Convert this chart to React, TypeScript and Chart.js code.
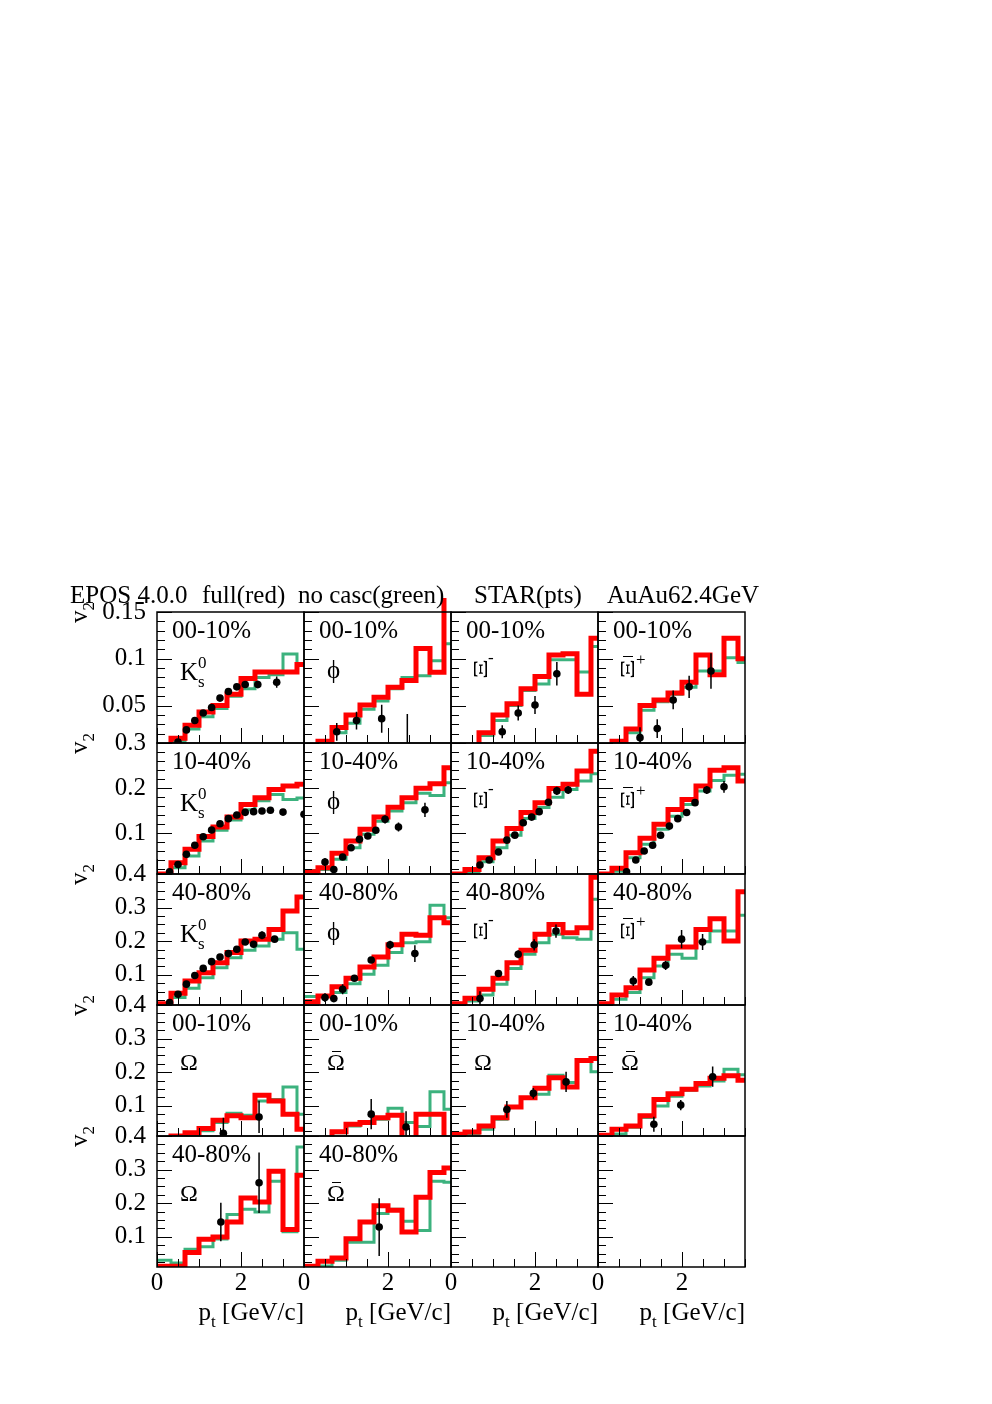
import React, { useEffect, useRef } from 'react';
import { Chart, registerables } from 'chart.js';

Chart.register(...registerables);

const FONT = '"Liberation Serif", "Times New Roman", Times, serif';
const RED = '#ff0000';
const GREEN = '#3cb27e';

// ---------- data ----------
const BIN_EDGES = [0, 0.333, 0.667, 1.0, 1.333, 1.667, 2.0, 2.333, 2.667, 3.0, 3.333, 3.667];

// K0s 00-10%
const K0S_0010_FULL = [0, 0.015, 0.029, 0.043, 0.05, 0.062, 0.079, 0.086, 0.086, 0.086, 0.094];
const K0S_0010_NOCASC = [0, 0.012, 0.025, 0.038, 0.047, 0.06, 0.068, 0.08, 0.083, 0.105, 0.094];
const K0S_0010_PT = [0.5, 0.7, 0.9, 1.1, 1.3, 1.5, 1.7, 1.9, 2.1, 2.4, 2.85];
const K0S_0010_V2 = [0.011, 0.024, 0.034, 0.042, 0.048, 0.058, 0.065, 0.07, 0.0725, 0.0725, 0.075];
const K0S_0010_ERR = [0.001, 0.001, 0.001, 0.001, 0.001, 0.001, 0.0015, 0.002, 0.003, 0.004, 0.006];

// phi 00-10%
const PHI_0010_FULL = [0, 0.012, 0.0265, 0.04, 0.0506, 0.0588, 0.0696, 0.0768, 0.111, 0.0857, 0.2];
const PHI_0010_NOCASC = [0, 0.01, 0.021, 0.031, 0.046, 0.055, 0.068, 0.08, 0.082, 0.098, 0.116];
const PHI_0010_PT = [0.78, 1.25, 1.85, 2.46];
const PHI_0010_V2 = [0.022, 0.034, 0.036, -0.01];
const PHI_0010_ERR = [0.0095, 0.0095, 0.015, 0.051];

// Xi- 00-10%
const XI_0010_FULL = [0, 0, 0.021, 0.04, 0.052, 0.068, 0.081, 0.104, 0.1055, 0.062, 0.122];
const XI_0010_NOCASC = [0, 0, 0.018, 0.034, 0.05, 0.066, 0.073, 0.099, 0.099, 0.086, 0.113];
const XI_0010_PT = [1.22, 1.6, 2.0, 2.52];
const XI_0010_V2 = [0.022, 0.042, 0.0506, 0.084];
const XI_0010_ERR = [0.007, 0.008, 0.0095, 0.0125];

// anti-Xi+ 00-10%
const AXI_0010_FULL = [0, 0.012, 0.025, 0.05, 0.056, 0.0635, 0.075, 0.104, 0.083, 0.122, 0.1];
const AXI_0010_NOCASC = [0, 0.011, 0.021, 0.045, 0.054, 0.062, 0.0696, 0.087, 0.087, 0.101, 0.096];
const AXI_0010_PT = [1.0, 1.41, 1.79, 2.17, 2.69];
const AXI_0010_V2 = [0.0157, 0.0254, 0.056, 0.07, 0.087];
const AXI_0010_ERR = [0.011, 0.01, 0.01, 0.012, 0.019];

// K0s 10-40%
const K0S_1040_FULL = [0.01, 0.035, 0.065, 0.093, 0.114, 0.136, 0.164, 0.179, 0.197, 0.205, 0.2085];
const K0S_1040_NOCASC = [0.01, 0.024, 0.05, 0.083, 0.107, 0.1295, 0.152, 0.172, 0.186, 0.175, 0.178];
const K0S_1040_PT = [0.3, 0.5, 0.7, 0.9, 1.1, 1.3, 1.5, 1.7, 1.9, 2.1, 2.3, 2.5, 2.7, 3.0, 3.5];
const K0S_1040_V2 = [0.015, 0.031, 0.0535, 0.0735, 0.0926, 0.1074, 0.1214, 0.1325, 0.1406, 0.1465, 0.148, 0.1495, 0.151, 0.147, 0.142];
const K0S_1040_ERR = [0.002, 0.002, 0.002, 0.002, 0.002, 0.002, 0.002, 0.002, 0.002, 0.002, 0.002, 0.002, 0.002, 0.003, 0.003];

// phi 10-40%
const PHI_1040_FULL = [0.015, 0.024, 0.056, 0.083, 0.109, 0.136, 0.158, 0.179, 0.1997, 0.21, 0.245];
const PHI_1040_NOCASC = [0.018, 0.02, 0.0425, 0.068, 0.098, 0.127, 0.1495, 0.168, 0.189, 0.184, 0.212];
const PHI_1040_PT = [0.5, 0.71, 0.92, 1.12, 1.32, 1.52, 1.71, 1.93, 2.25, 2.88];
const PHI_1040_V2 = [0.0365, 0.02, 0.0476, 0.068, 0.0867, 0.094, 0.107, 0.131, 0.114, 0.152];
const PHI_1040_ERR = [0.009, 0.004, 0.004, 0.004, 0.005, 0.005, 0.006, 0.009, 0.01, 0.016];

// Xi- 10-40%
const XI_1040_FULL = [0.01, 0.02, 0.046, 0.083, 0.111, 0.146, 0.168, 0.199, 0.2085, 0.238, 0.282];
const XI_1040_NOCASC = [0.01, 0.0145, 0.037, 0.068, 0.096, 0.133, 0.157, 0.18, 0.197, 0.216, 0.232];
const XI_1040_PT = [0.69, 0.91, 1.13, 1.33, 1.52, 1.72, 1.92, 2.1, 2.32, 2.52, 2.79];
const XI_1040_V2 = [0.03, 0.041, 0.0587, 0.085, 0.096, 0.1236, 0.136, 0.148, 0.169, 0.194, 0.196];
const XI_1040_ERR = [0.004, 0.004, 0.004, 0.004, 0.004, 0.004, 0.004, 0.004, 0.005, 0.009, 0.009];

// anti-Xi+ 10-40%
const AXI_1040_FULL = [0.01, 0.0226, 0.057, 0.089, 0.12, 0.153, 0.175, 0.205, 0.2395, 0.245, 0.216];
const AXI_1040_NOCASC = [0.01, 0.016, 0.046, 0.076, 0.109, 0.138, 0.164, 0.194, 0.217, 0.2285, 0.231];
const AXI_1040_PT = [0.68, 0.9, 1.1, 1.3, 1.49, 1.7, 1.9, 2.11, 2.31, 2.59, 3.0];
const AXI_1040_V2 = [0.015, 0.041, 0.061, 0.0735, 0.0957, 0.116, 0.1325, 0.146, 0.168, 0.196, 0.203];
const AXI_1040_ERR = [0.004, 0.004, 0.004, 0.004, 0.004, 0.004, 0.004, 0.005, 0.006, 0.009, 0.013];

// K0s 40-80%
const K0S_4080_FULL = [0.014, 0.045, 0.0815, 0.106, 0.136, 0.166, 0.2005, 0.206, 0.235, 0.29, 0.3315];
const K0S_4080_NOCASC = [0.012, 0.032, 0.06, 0.091, 0.121, 0.151, 0.173, 0.186, 0.206, 0.225, 0.176];
const K0S_4080_PT = [0.3, 0.5, 0.7, 0.9, 1.1, 1.3, 1.5, 1.7, 1.9, 2.1, 2.3, 2.5, 2.8];
const K0S_4080_V2 = [0.017, 0.042, 0.072, 0.098, 0.119, 0.139, 0.153, 0.163, 0.176, 0.1976, 0.191, 0.2175, 0.206];
const K0S_4080_ERR = [0.003, 0.003, 0.003, 0.003, 0.003, 0.003, 0.003, 0.004, 0.004, 0.005, 0.006, 0.012, 0.008];

// phi 40-80%
const PHI_4080_FULL = [0.02, 0.037, 0.0645, 0.0895, 0.123, 0.153, 0.189, 0.2205, 0.2175, 0.27, 0.255];
const PHI_4080_NOCASC = [0.035, 0.035, 0.047, 0.0734, 0.1014, 0.128, 0.166, 0.1955, 0.198, 0.307, 0.27];
const PHI_4080_PT = [0.5, 0.71, 0.92, 1.2, 1.6, 2.05, 2.64];
const PHI_4080_V2 = [0.032, 0.029, 0.057, 0.0895, 0.144, 0.189, 0.163];
const PHI_4080_ERR = [0.013, 0.01, 0.015, 0.006, 0.007, 0.012, 0.025];

// Xi- 40-80%
const XI_4080_FULL = [0.014, 0.03, 0.057, 0.0895, 0.136, 0.173, 0.2205, 0.25, 0.225, 0.24, 0.39];
const XI_4080_NOCASC = [0.012, 0.022, 0.04, 0.072, 0.119, 0.161, 0.1955, 0.2205, 0.21, 0.206, 0.325];
const XI_4080_PT = [0.69, 1.13, 1.6, 1.98, 2.5];
const XI_4080_V2 = [0.029, 0.104, 0.161, 0.189, 0.23];
const XI_4080_ERR = [0.022, 0.006, 0.012, 0.017, 0.02];

// anti-Xi+ 40-80%
const AXI_4080_FULL = [0.014, 0.04, 0.0615, 0.114, 0.149, 0.183, 0.183, 0.235, 0.267, 0.2005, 0.347];
const AXI_4080_NOCASC = [0.012, 0.027, 0.047, 0.091, 0.126, 0.161, 0.149, 0.198, 0.23, 0.23, 0.277];
const AXI_4080_PT = [0.84, 1.21, 1.61, 1.99, 2.49];
const AXI_4080_V2 = [0.0815, 0.078, 0.128, 0.206, 0.1976];
const AXI_4080_ERR = [0.015, 0.008, 0.014, 0.027, 0.024];

// Omega 00-10%
const OM_0010_FULL = [0, 0.01, 0.02, 0.032, 0.057, 0.07, 0.0645, 0.131, 0.114, 0.075, 0.03];
const OM_0010_NOCASC = [0, 0.01, 0.016, 0.026, 0.05, 0.078, 0.072, 0.114, 0.119, 0.156, 0.075];
const OM_0010_PT = [1.58, 2.43];
const OM_0010_V2 = [0.018, 0.0666];
const OM_0010_ERR = [0.046, 0.048];

// anti-Omega 00-10%
const AOM_0010_FULL = [0, 0, 0.023, 0.045, 0.05, 0.0645, 0.072, 0, 0.075, 0.075, 0];
const AOM_0010_NOCASC = [0, 0, 0.02, 0.04, 0.047, 0.06, 0.0925, 0.05, 0.038, 0.142, 0.09];
const AOM_0010_PT = [1.6, 2.43];
const AOM_0010_V2 = [0.075, 0.037];
const AOM_0010_ERR = [0.045, 0.047];

// Omega 10-40%
const OM_1040_FULL = [0.015, 0.022, 0.04, 0.0645, 0.0963, 0.124, 0.152, 0.1836, 0.156, 0.235, 0.241];
const OM_1040_NOCASC = [0.012, 0.017, 0.03, 0.06, 0.095, 0.124, 0.134, 0.191, 0.169, 0.233, 0.2015];
const OM_1040_PT = [1.33, 1.96, 2.74];
const OM_1040_V2 = [0.089, 0.137, 0.171];
const OM_1040_ERR = [0.025, 0.016, 0.03];

// anti-Omega 10-40%
const AOM_1040_FULL = [0.012, 0.03, 0.04, 0.07, 0.119, 0.136, 0.149, 0.166, 0.182, 0.189, 0.176];
const AOM_1040_NOCASC = [0.01, 0.016, 0.036, 0.065, 0.099, 0.128, 0.146, 0.159, 0.174, 0.2085, 0.192];
const AOM_1040_PT = [1.33, 1.97, 2.73];
const AOM_1040_V2 = [0.045, 0.102, 0.1866];
const AOM_1040_ERR = [0.022, 0.015, 0.03];

// Omega 40-80%
const OM_4080_FULL = [0.012, 0.012, 0.053, 0.0925, 0.099, 0.144, 0.2154, 0.2035, 0.295, 0.122, 0.283];
const OM_4080_NOCASC = [0.03, 0.022, 0.063, 0.07, 0.093, 0.166, 0.182, 0.174, 0.265, 0.115, 0.367];
const OM_4080_PT = [1.52, 2.43];
const OM_4080_V2 = [0.144, 0.261];
const OM_4080_ERR = [0.057, 0.09];

// anti-Omega 40-80%
const AOM_4080_FULL = [0.012, 0.027, 0.037, 0.094, 0.144, 0.192, 0.179, 0.114, 0.218, 0.291, 0.305];
const AOM_4080_NOCASC = [0.01, 0.013, 0.03, 0.084, 0.084, 0.169, 0.182, 0.146, 0.119, 0.265, 0.262];
const AOM_4080_PT = [1.79];
const AOM_4080_V2 = [0.129];
const AOM_4080_ERR = [0.086];

// axis tick labels
const ROW_Y_MAX = [0.15, 0.3, 0.4, 0.4, 0.4];
const ROW_Y_LABELS = [
  [0.05, 0.1, 0.15],
  [0.1, 0.2, 0.3],
  [0.1, 0.2, 0.3, 0.4],
  [0.1, 0.2, 0.3, 0.4],
  [0.1, 0.2, 0.3, 0.4],
];
const X_LABELS = [0, 2];
const Y_MIN = 0.01;
const X_MAX = 3.5;

const TITLE_PARTS = ['EPOS 4.0.0', 'full(red)', 'no casc(green)', 'STAR(pts)', 'AuAu62.4GeV'];

type PanelDef = {
  row: number; col: number; cent: string; particle: string;
  full: number[]; nocasc: number[]; pt: number[]; v2: number[]; err: number[];
};

const PANELS: PanelDef[] = [
  { row: 0, col: 0, cent: '00-10%', particle: 'K0s', full: K0S_0010_FULL, nocasc: K0S_0010_NOCASC, pt: K0S_0010_PT, v2: K0S_0010_V2, err: K0S_0010_ERR },
  { row: 0, col: 1, cent: '00-10%', particle: 'phi', full: PHI_0010_FULL, nocasc: PHI_0010_NOCASC, pt: PHI_0010_PT, v2: PHI_0010_V2, err: PHI_0010_ERR },
  { row: 0, col: 2, cent: '00-10%', particle: 'Xi', full: XI_0010_FULL, nocasc: XI_0010_NOCASC, pt: XI_0010_PT, v2: XI_0010_V2, err: XI_0010_ERR },
  { row: 0, col: 3, cent: '00-10%', particle: 'AXi', full: AXI_0010_FULL, nocasc: AXI_0010_NOCASC, pt: AXI_0010_PT, v2: AXI_0010_V2, err: AXI_0010_ERR },
  { row: 1, col: 0, cent: '10-40%', particle: 'K0s', full: K0S_1040_FULL, nocasc: K0S_1040_NOCASC, pt: K0S_1040_PT, v2: K0S_1040_V2, err: K0S_1040_ERR },
  { row: 1, col: 1, cent: '10-40%', particle: 'phi', full: PHI_1040_FULL, nocasc: PHI_1040_NOCASC, pt: PHI_1040_PT, v2: PHI_1040_V2, err: PHI_1040_ERR },
  { row: 1, col: 2, cent: '10-40%', particle: 'Xi', full: XI_1040_FULL, nocasc: XI_1040_NOCASC, pt: XI_1040_PT, v2: XI_1040_V2, err: XI_1040_ERR },
  { row: 1, col: 3, cent: '10-40%', particle: 'AXi', full: AXI_1040_FULL, nocasc: AXI_1040_NOCASC, pt: AXI_1040_PT, v2: AXI_1040_V2, err: AXI_1040_ERR },
  { row: 2, col: 0, cent: '40-80%', particle: 'K0s', full: K0S_4080_FULL, nocasc: K0S_4080_NOCASC, pt: K0S_4080_PT, v2: K0S_4080_V2, err: K0S_4080_ERR },
  { row: 2, col: 1, cent: '40-80%', particle: 'phi', full: PHI_4080_FULL, nocasc: PHI_4080_NOCASC, pt: PHI_4080_PT, v2: PHI_4080_V2, err: PHI_4080_ERR },
  { row: 2, col: 2, cent: '40-80%', particle: 'Xi', full: XI_4080_FULL, nocasc: XI_4080_NOCASC, pt: XI_4080_PT, v2: XI_4080_V2, err: XI_4080_ERR },
  { row: 2, col: 3, cent: '40-80%', particle: 'AXi', full: AXI_4080_FULL, nocasc: AXI_4080_NOCASC, pt: AXI_4080_PT, v2: AXI_4080_V2, err: AXI_4080_ERR },
  { row: 3, col: 0, cent: '00-10%', particle: 'Om', full: OM_0010_FULL, nocasc: OM_0010_NOCASC, pt: OM_0010_PT, v2: OM_0010_V2, err: OM_0010_ERR },
  { row: 3, col: 1, cent: '00-10%', particle: 'AOm', full: AOM_0010_FULL, nocasc: AOM_0010_NOCASC, pt: AOM_0010_PT, v2: AOM_0010_V2, err: AOM_0010_ERR },
  { row: 3, col: 2, cent: '10-40%', particle: 'Om', full: OM_1040_FULL, nocasc: OM_1040_NOCASC, pt: OM_1040_PT, v2: OM_1040_V2, err: OM_1040_ERR },
  { row: 3, col: 3, cent: '10-40%', particle: 'AOm', full: AOM_1040_FULL, nocasc: AOM_1040_NOCASC, pt: AOM_1040_PT, v2: AOM_1040_V2, err: AOM_1040_ERR },
  { row: 4, col: 0, cent: '40-80%', particle: 'Om', full: OM_4080_FULL, nocasc: OM_4080_NOCASC, pt: OM_4080_PT, v2: OM_4080_V2, err: OM_4080_ERR },
  { row: 4, col: 1, cent: '40-80%', particle: 'AOm', full: AOM_4080_FULL, nocasc: AOM_4080_NOCASC, pt: AOM_4080_PT, v2: AOM_4080_V2, err: AOM_4080_ERR },
];

// ---------- layout ----------
const COL_X = [157, 304, 451, 598];
const ROW_Y = [612, 743, 874, 1005, 1136];
const PW = 147;
const PH = 131;
const NROWS = 5;
const NCOLS = 4;
const ROW_MINOR = [0.01, 0.02, 0.025, 0.025, 0.025];
const ROW_MAJOR = [0.05, 0.1, 0.1, 0.1, 0.1];

const rootFrame = {
  id: 'rootFrame',
  afterDraw(chart: any, _args: any, opts: any) {
    const { ctx, chartArea: a, scales } = chart;
    const xs = scales.x;
    const ys = scales.y;
    ctx.save();
    ctx.strokeStyle = '#000';
    ctx.lineWidth = 1;
    ctx.beginPath();
    const n = Math.round((ys.max - opts.yMinor) / opts.yMinor);
    for (let i = 0; i <= n; i++) {
      const v = opts.yMinor * (i + 1);
      const r = v / opts.yMajor;
      const major = Math.abs(r - Math.round(r)) < 1e-6;
      const py = Math.round(ys.getPixelForValue(v)) + 0.5;
      ctx.moveTo(a.left, py);
      ctx.lineTo(a.left + (major ? 15 : 8), py);
    }
    for (let i = 0; i <= 7; i++) {
      const v = i * 0.5;
      const major = i % 4 === 0;
      const px = Math.round(xs.getPixelForValue(v)) + 0.5;
      ctx.moveTo(px, a.bottom);
      ctx.lineTo(px, a.bottom - (major ? 15 : 8));
    }
    ctx.stroke();
    ctx.lineWidth = 1.5;
    ctx.strokeRect(a.left, a.top, a.right - a.left, a.bottom - a.top);
    ctx.restore();
  },
};

function histPoints(vals: number[]) {
  const pts = vals.map((v, i) => ({ x: BIN_EDGES[i], y: v }));
  pts.push({ x: BIN_EDGES[vals.length], y: vals[vals.length - 1] });
  return pts;
}

function errPoints(pt: number[], v2: number[], err: number[]) {
  const out: any[] = [];
  pt.forEach((x, i) => {
    out.push({ x, y: v2[i] - err[i] });
    out.push({ x, y: v2[i] + err[i] });
    out.push({ x, y: NaN });
  });
  return out;
}

function PanelChart({ row, col, def }: { row: number; col: number; def: PanelDef | null }) {
  const ref = useRef<HTMLCanvasElement>(null);
  const showX = row === NROWS - 1;
  const showY = col === 0;
  const padL = showY ? 100 : 20;
  const padR = 20;
  const padT = 30;
  const padB = showX ? 50 : 30;
  const w = padL + PW + padR;
  const h = padT + PH + padB;

  useEffect(() => {
    const datasets: any[] = [];
    // the top row's pad leaves a small margin above the frame, as in the original
    const histClip = { left: 0, right: 0, bottom: 0, top: row === 0 ? 14 : 0 };
    if (def) {
      datasets.push({
        type: 'scatter',
        data: def.pt.map((x, i) => ({ x, y: def.v2[i] })),
        pointRadius: 3.8,
        pointBackgroundColor: '#000',
        pointBorderWidth: 0,
        showLine: false,
        order: 0,
        clip: 0,
      });
      datasets.push({
        type: 'line',
        data: errPoints(def.pt, def.v2, def.err),
        borderColor: '#000',
        borderWidth: 1.5,
        pointRadius: 0,
        spanGaps: false,
        fill: false,
        order: 1,
        clip: 0,
      });
      datasets.push({
        type: 'line',
        data: histPoints(def.full),
        stepped: true,
        borderColor: RED,
        borderWidth: 5,
        borderJoinStyle: 'miter',
        pointRadius: 0,
        fill: false,
        order: 2,
        clip: histClip,
      });
      datasets.push({
        type: 'line',
        data: histPoints(def.nocasc),
        stepped: true,
        borderColor: GREEN,
        borderWidth: 3,
        borderJoinStyle: 'miter',
        pointRadius: 0,
        fill: false,
        order: 3,
        clip: histClip,
      });
    }
    const tickFont = { family: FONT, size: 25 };
    const chart = new Chart(ref.current as HTMLCanvasElement, {
      type: 'scatter',
      data: { datasets },
      options: {
        animation: false,
        responsive: false,
        maintainAspectRatio: false,
        events: [],
        layout: {
          padding: {
            left: showY ? 0 : padL,
            right: padR,
            top: padT,
            bottom: showX ? 0 : padB,
          },
        },
        plugins: {
          legend: { display: false },
          tooltip: { enabled: false },
          rootFrame: { yMinor: ROW_MINOR[row], yMajor: ROW_MAJOR[row] },
        } as any,
        scales: {
          x: {
            type: 'linear',
            min: 0,
            max: X_MAX,
            display: showX,
            grid: { display: false, drawTicks: false },
            border: { display: false },
            afterBuildTicks: (s: any) => {
              s.ticks = X_LABELS.map((v) => ({ value: v }));
            },
            afterFit: (s: any) => {
              s.height = showX ? padB : 0;
            },
            ticks: {
              font: tickFont,
              color: '#000',
              padding: 1,
              maxRotation: 0,
              minRotation: 0,
              autoSkip: false,
              callback: (v: any) => String(v),
            },
          },
          y: {
            type: 'linear',
            min: Y_MIN,
            max: ROW_Y_MAX[row],
            display: showY,
            grid: { display: false, drawTicks: false },
            border: { display: false },
            afterBuildTicks: (s: any) => {
              s.ticks = ROW_Y_LABELS[row].map((v) => ({ value: v }));
            },
            afterFit: (s: any) => {
              s.width = showY ? padL : 0;
            },
            ticks: {
              font: tickFont,
              color: '#000',
              padding: 11,
              autoSkip: false,
              callback: (v: any) => String(v),
            },
          },
        } as any,
      },
      plugins: [rootFrame as any],
    });
    return () => chart.destroy();
  }, []);

  return (
    <canvas
      ref={ref}
      width={w}
      height={h}
      style={{ position: 'absolute', left: COL_X[col] - padL, top: ROW_Y[row] - padT, width: w, height: h }}
    />
  );
}

const textBase: React.CSSProperties = {
  position: 'absolute',
  fontFamily: FONT,
  fontSize: 25,
  lineHeight: '25px',
  whiteSpace: 'nowrap',
  color: '#000',
};

function Bar({ left, top, width }: { left: number; top: number; width: number }) {
  return <div style={{ position: 'absolute', left, top, width, height: 0, borderTop: '1.5px solid #000' }} />;
}

function ParticleLabel({ x0, y0, particle }: { x0: number; y0: number; particle: string }) {
  if (particle === 'K0s') {
    return (
      <>
        <div style={{ ...textBase, left: x0 + 23, top: y0 + 47 }}>K</div>
        <div style={{ ...textBase, fontSize: 17, lineHeight: '17px', left: x0 + 41, top: y0 + 42 }}>0</div>
        <div style={{ ...textBase, fontSize: 17, lineHeight: '17px', left: x0 + 41, top: y0 + 61 }}>s</div>
      </>
    );
  }
  if (particle === 'phi') {
    return <div style={{ ...textBase, left: x0 + 23, top: y0 + 45 }}>ϕ</div>;
  }
  if (particle === 'Xi' || particle === 'AXi') {
    const rot: React.CSSProperties = {
      ...textBase,
      fontSize: 31,
      lineHeight: '28px',
      left: x0 + 16,
      top: y0 + 43,
      width: 28,
      height: 28,
      textAlign: 'center',
      transform: 'rotate(-90deg) scaleY(0.62)',
      transformOrigin: '50% 50%',
    };
    if (particle === 'Xi') {
      return (
        <>
          <div style={rot}>Ξ</div>
          <div style={{ ...textBase, fontSize: 17, lineHeight: '17px', left: x0 + 37, top: y0 + 37 }}>-</div>
        </>
      );
    }
    return (
      <>
        <Bar left={x0 + 25} top={y0 + 44} width={10} />
        <div style={rot}>Ξ</div>
        <div style={{ ...textBase, fontSize: 17, lineHeight: '17px', left: x0 + 38, top: y0 + 39 }}>+</div>
      </>
    );
  }
  if (particle === 'Om') {
    return <div style={{ ...textBase, fontSize: 24, left: x0 + 23, top: y0 + 45 }}>Ω</div>;
  }
  if (particle === 'AOm') {
    return (
      <>
        <Bar left={x0 + 28} top={y0 + 46} width={9} />
        <div style={{ ...textBase, fontSize: 24, left: x0 + 23, top: y0 + 45 }}>Ω</div>
      </>
    );
  }
  return null;
}

const TITLE_X = [70, 202, 298, 474, 607];

export default function App() {
  const cells: { row: number; col: number; def: PanelDef | null }[] = [];
  for (let r = 0; r < NROWS; r++) {
    for (let c = 0; c < NCOLS; c++) {
      const def = PANELS.find((p) => p.row === r && p.col === c) || null;
      cells.push({ row: r, col: c, def });
    }
  }
  return (
    <div style={{ position: 'absolute', left: 0, top: 0, width: 992, height: 1404, background: '#fff', overflow: 'hidden' }}>
      {cells.map((c) => (
        <PanelChart key={`${c.row}-${c.col}`} row={c.row} col={c.col} def={c.def} />
      ))}
      {TITLE_PARTS.map((t, i) => (
        <div key={t} style={{ ...textBase, left: TITLE_X[i], top: 582 }}>{t}</div>
      ))}
      {PANELS.map((p) => (
        <React.Fragment key={`lab-${p.row}-${p.col}`}>
          <div style={{ ...textBase, left: COL_X[p.col] + 15, top: ROW_Y[p.row] + 5 }}>{p.cent}</div>
          <ParticleLabel x0={COL_X[p.col]} y0={ROW_Y[p.row]} particle={p.particle} />
        </React.Fragment>
      ))}
      {ROW_Y.map((y, r) => (
        <div
          key={`v2-${r}`}
          style={{ ...textBase, left: 66, top: y + 11, transform: 'rotate(-90deg)', transformOrigin: '0 0' }}
        >
          v<span style={{ fontSize: 17, position: 'relative', top: 7 }}>2</span>
        </div>
      ))}
      {COL_X.map((x, c) => (
        <div key={`xt-${c}`} style={{ ...textBase, left: x, width: PW, textAlign: 'right', top: 1299 }}>
          p<span style={{ fontSize: 17, position: 'relative', top: 7 }}>t</span> [GeV/c]
        </div>
      ))}
    </div>
  );
}
